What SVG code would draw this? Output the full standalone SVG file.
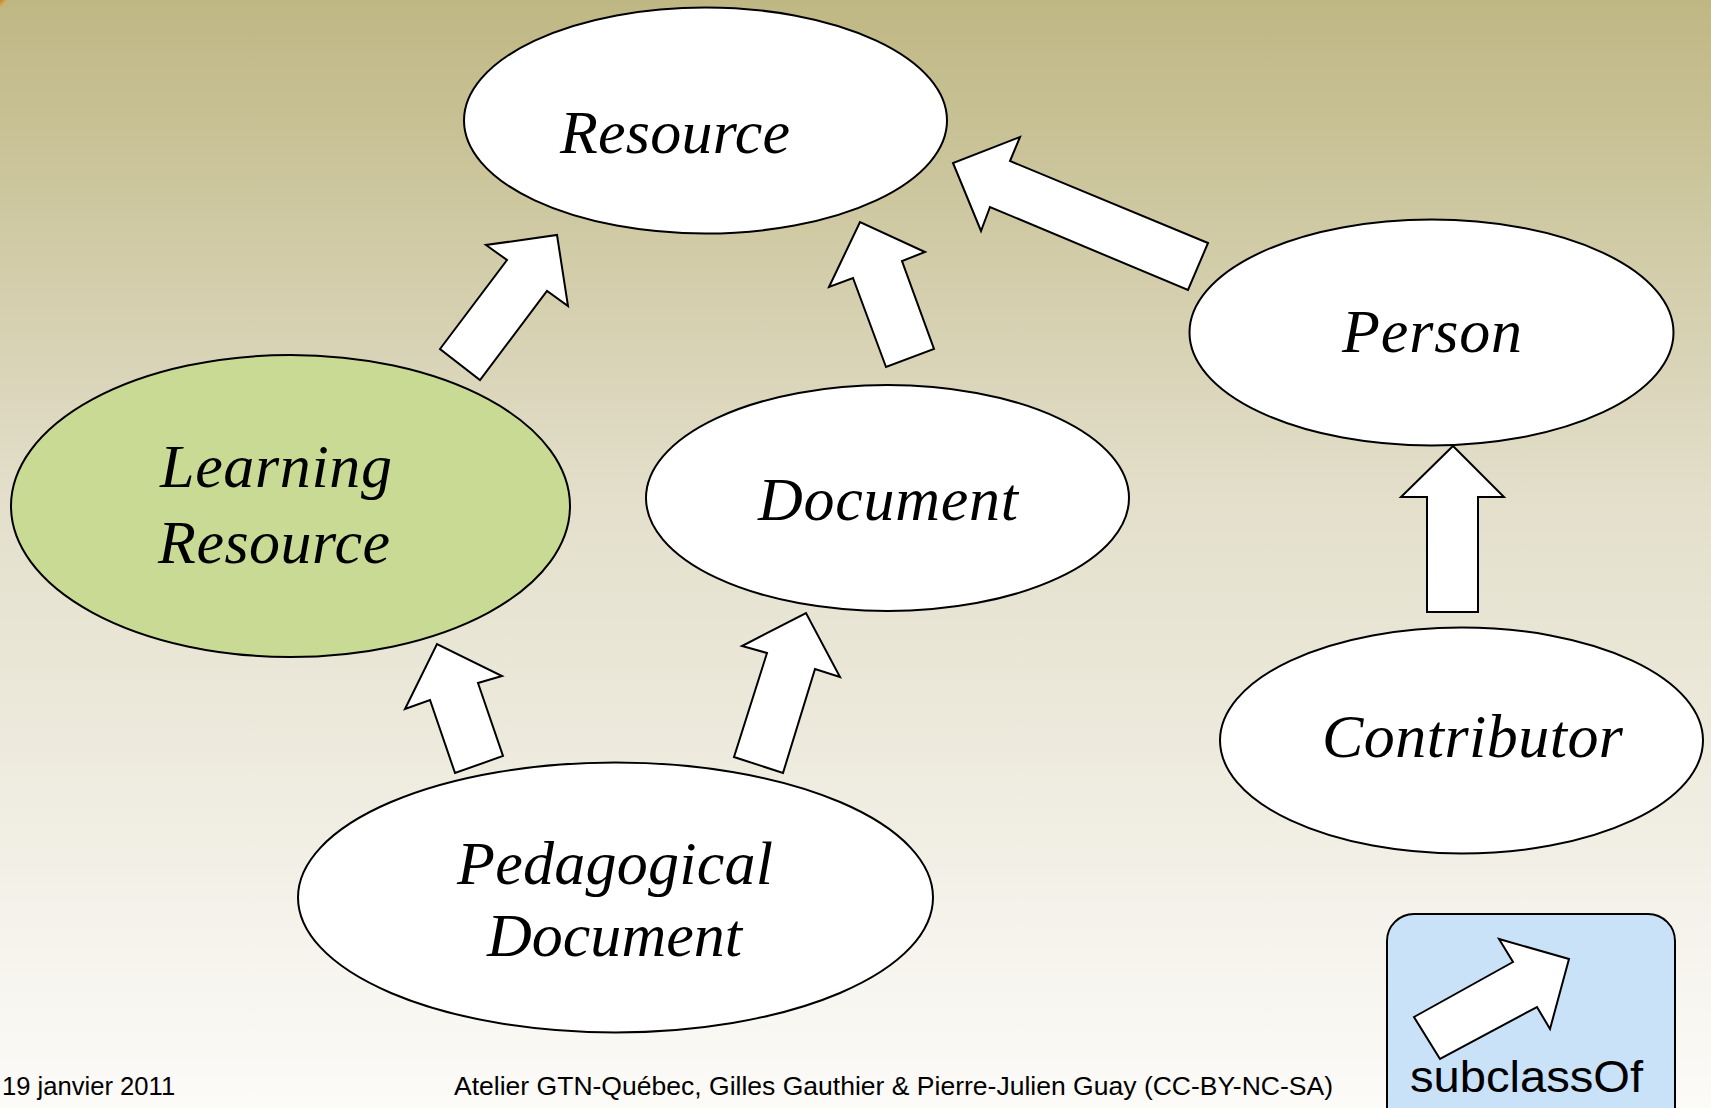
<svg xmlns="http://www.w3.org/2000/svg" width="1711" height="1108" viewBox="0 0 1711 1108">
  <defs>
    <linearGradient id="bg" x1="0" y1="0" x2="0" y2="1">
      <stop offset="0" stop-color="#bfb783"/>
      <stop offset="0.45" stop-color="#e3dfcb"/>
      <stop offset="1" stop-color="#fcfbf8"/>
    </linearGradient>
    <radialGradient id="corner" cx="0.5" cy="0.5" r="0.5">
      <stop offset="0.8" stop-color="#a9702a"/>
      <stop offset="1" stop-color="#d9b56a"/>
    </radialGradient>
  </defs>
  <style>
    .node { fill: #ffffff; stroke: #000000; stroke-width: 2; }
    .green { fill: #c9da94; }
    .label { font-family: "Liberation Serif", "Times New Roman", serif; font-style: italic; font-size: 62px; fill: #000000; }
    .arrow { fill: #ffffff; stroke: #000000; stroke-width: 2; stroke-linejoin: miter; }
    .footer { font-family: "Liberation Sans", Arial, sans-serif; font-size: 25.6px; fill: #000000; }
    .legendtext { font-family: "Liberation Sans", Arial, sans-serif; font-size: 45px; fill: #000000; }
  </style>

  <rect x="0" y="0" width="1711" height="1108" fill="url(#bg)"/>
  <circle cx="-28" cy="-28" r="46" fill="url(#corner)"/>

  <g id="connectors">
    <polygon class="arrow" points="440,349 507,260 486,245 557,235 568,306 547,291 480,380"/>
    <polygon class="arrow" points="886,367 853,278 829,287 860,222 925,252 902,261 934,349"/>
    <polygon class="arrow" points="1208,243 1010,161 1020,137 953,163 981,231 990,207 1188,290"/>
    <polygon class="arrow" points="1453,446 1504,497 1478,497 1478,612 1427,612 1427,497 1401,497"/>
    <polygon class="arrow" points="455,773 430,700 405,709 437,644 502,676 478,683 503,756"/>
    <polygon class="arrow" points="734,757 767,653 742,646 806,613 840,677 815,669 783,773"/>
  </g>

  <g id="resource">
    <ellipse class="node" cx="705.5" cy="120.5" rx="241.5" ry="113"/>
    <text class="label" x="560" y="153" textLength="230" lengthAdjust="spacing">Resource</text>
  </g>

  <g id="learning-resource">
    <ellipse class="node green" cx="290.5" cy="506" rx="279.5" ry="151"/>
    <text class="label" x="160" y="487" textLength="232" lengthAdjust="spacing">Learning</text>
    <text class="label" x="158" y="563" textLength="232" lengthAdjust="spacing">Resource</text>
  </g>

  <g id="document">
    <ellipse class="node" cx="887.5" cy="498" rx="241.5" ry="113"/>
    <text class="label" x="758" y="520" textLength="260" lengthAdjust="spacing">Document</text>
  </g>

  <g id="person">
    <ellipse class="node" cx="1431.5" cy="332.5" rx="242" ry="113"/>
    <text class="label" x="1342" y="352" textLength="180" lengthAdjust="spacing">Person</text>
  </g>

  <g id="contributor">
    <ellipse class="node" cx="1461.5" cy="740.5" rx="241.5" ry="113"/>
    <text class="label" x="1322" y="757" textLength="301" lengthAdjust="spacing">Contributor</text>
  </g>

  <g id="pedagogical-document">
    <ellipse class="node" cx="615.5" cy="897.5" rx="317.5" ry="135"/>
    <text class="label" x="457" y="884" textLength="316" lengthAdjust="spacing">Pedagogical</text>
    <text class="label" x="487" y="956" textLength="255" lengthAdjust="spacing">Document</text>
  </g>

  <g id="legend">
    <rect x="1387" y="914" width="288" height="220" rx="27" ry="27" fill="#c9e2f8" stroke="#000000" stroke-width="2"/>
    <polygon class="arrow" points="1414,1017 1513,962 1499,939 1569,959 1550,1029 1537,1007 1440,1059"/>
    <text class="legendtext" x="1410" y="1092" textLength="233" lengthAdjust="spacingAndGlyphs">subclassOf</text>
  </g>

  <g id="footer">
    <text class="footer" x="2" y="1095">19 janvier 2011</text>
    <text class="footer" x="454" y="1095" textLength="879" lengthAdjust="spacingAndGlyphs">Atelier GTN-Québec, Gilles Gauthier &amp; Pierre-Julien Guay (CC-BY-NC-SA)</text>
  </g>
</svg>
